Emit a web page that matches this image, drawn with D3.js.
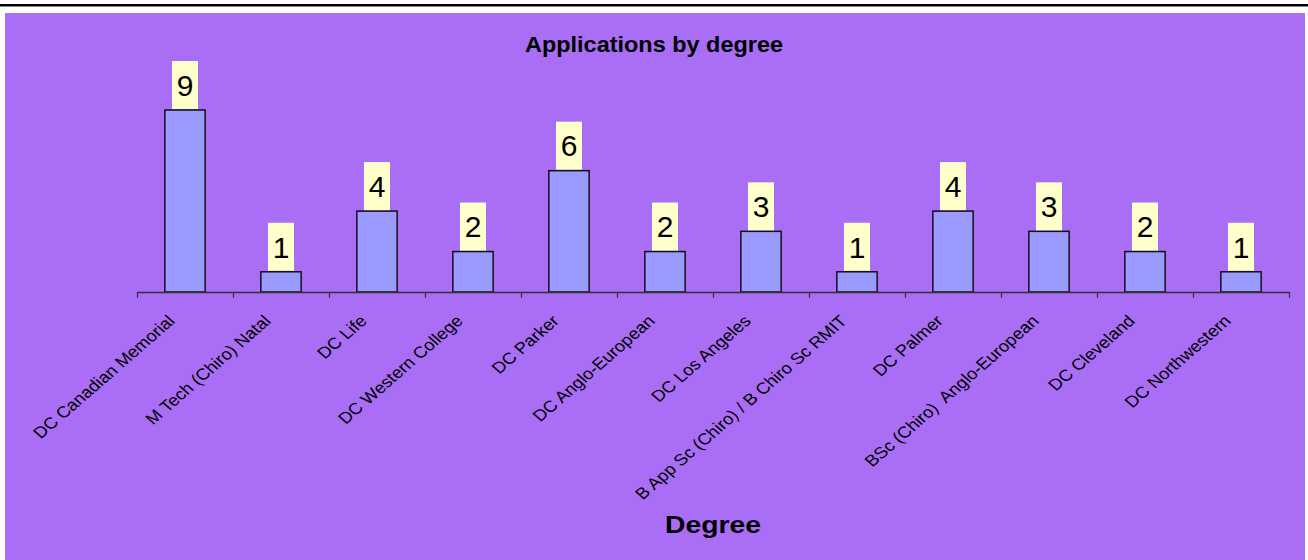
<!DOCTYPE html>
<html>
<head>
<meta charset="utf-8">
<script src="https://cdn.jsdelivr.net/npm/d3@7"></script>
<style>
  body { margin: 0; background: #fff; }
  text { font-family: "Liberation Sans", Arial, sans-serif; }
  text.cat { white-space: pre; }
</style>
</head>
<body>
<div class="chart"></div>
<script>
const categories = [
  "DC Canadian Memorial",
  "M Tech (Chiro) Natal",
  "DC Life",
  "DC Western College",
  "DC Parker",
  "DC Anglo-European",
  "DC Los Angeles",
  "B App Sc (Chiro) / B Chiro Sc RMIT",
  "DC Palmer",
  "BSc (Chiro)  Anglo-European",
  "DC Cleveland",
  "DC Northwestern"
];
const applications = [9, 1, 4, 2, 6, 2, 3, 1, 4, 3, 2, 1];
const chartTitle = "Applications by degree";
const axisTitle = "Degree";

const width = 1308;
const height = 560;

const margin = { top: 110, right: 19, bottom: 268, left: 137 },
  plotW = width - margin.left - margin.right,
  plotH = height - margin.top - margin.bottom;

const svg = d3
  .select(".chart")
  .append("svg")
  .attr("width", width)
  .attr("height", height);

// frame: black rule on top, purple chart area
svg.append("rect")
  .attr("x", 0).attr("y", 4)
  .attr("width", width).attr("height", 2.5)
  .attr("fill", "#000");

svg.append("rect")
  .attr("x", 5).attr("y", 13)
  .attr("width", 1300).attr("height", height - 13)
  .attr("fill", "#a96df6");

const g = svg.append("g")
  .attr("transform", "translate(" + margin.left + "," + margin.top + ")");

const xScale = d3.scaleBand()
  .domain(categories)
  .range([0, plotW])
  .paddingInner(0.58)
  .paddingOuter(0.29);

const yScale = d3.scaleLinear()
  .domain([0, d3.max(applications)])
  .range([plotH, 0]);

// bars
g.selectAll("rect.bar")
  .data(applications)
  .join("rect")
  .attr("class", "bar")
  .attr("x", (d, i) => xScale(categories[i]))
  .attr("y", d => yScale(d))
  .attr("width", xScale.bandwidth())
  .attr("height", d => plotH - yScale(d))
  .attr("fill", "#9999ff")
  .attr("stroke", "#111")
  .attr("stroke-width", 1.5);

// data labels in yellow boxes
const boxW = 26, boxH = 48;
const lbl = g.selectAll("g.dl")
  .data(applications)
  .join("g")
  .attr("class", "dl")
  .attr("transform", (d, i) =>
    "translate(" + (xScale(categories[i]) + xScale.bandwidth() / 2) + "," + yScale(d) + ")");

lbl.append("rect")
  .attr("x", -boxW / 2)
  .attr("y", -boxH - 1)
  .attr("width", boxW)
  .attr("height", boxH)
  .attr("fill", "#ffffcc");

lbl.append("text")
  .attr("y", -boxH / 2 - 1)
  .attr("dy", "0.36em")
  .attr("text-anchor", "middle")
  .attr("font-size", 30)
  .attr("fill", "#000")
  .text(d => d);

// category axis: line with ticks between categories
const edge = d3.scaleLinear().domain([0, categories.length]).range([0, plotW]);
const axis = g.append("g")
  .attr("transform", "translate(0," + plotH + ")")
  .call(d3.axisBottom(edge).ticks(categories.length).tickSize(6).tickFormat("").tickSizeOuter(0));
axis.select(".domain").attr("stroke", "#333").attr("stroke-width", 1.5);
axis.selectAll(".tick line").attr("stroke", "#333").attr("stroke-width", 1.2);

// rotated category labels (chart was stretched sideways)
g.selectAll("text.cat")
  .data(categories)
  .join("text")
  .attr("class", "cat")
  .attr("text-anchor", "end")
  .attr("font-size", 16)
  .attr("fill", "#000")
  .attr("transform", d =>
    "translate(" + (xScale(d) + xScale.bandwidth() / 2 - 9) + "," + (plotH + 30) + ") scale(1.15,1) rotate(-45)")
  .text(d => d);

// titles
svg.append("text")
  .attr("x", 654)
  .attr("y", 52)
  .attr("text-anchor", "middle")
  .attr("font-size", 22)
  .attr("font-weight", "bold")
  .attr("textLength", 258)
  .attr("lengthAdjust", "spacingAndGlyphs")
  .text(chartTitle);

svg.append("text")
  .attr("x", margin.left + plotW / 2)
  .attr("y", 533)
  .attr("text-anchor", "middle")
  .attr("font-size", 24)
  .attr("font-weight", "bold")
  .attr("textLength", 96)
  .attr("lengthAdjust", "spacingAndGlyphs")
  .text(axisTitle);
</script>
</body>
</html>
